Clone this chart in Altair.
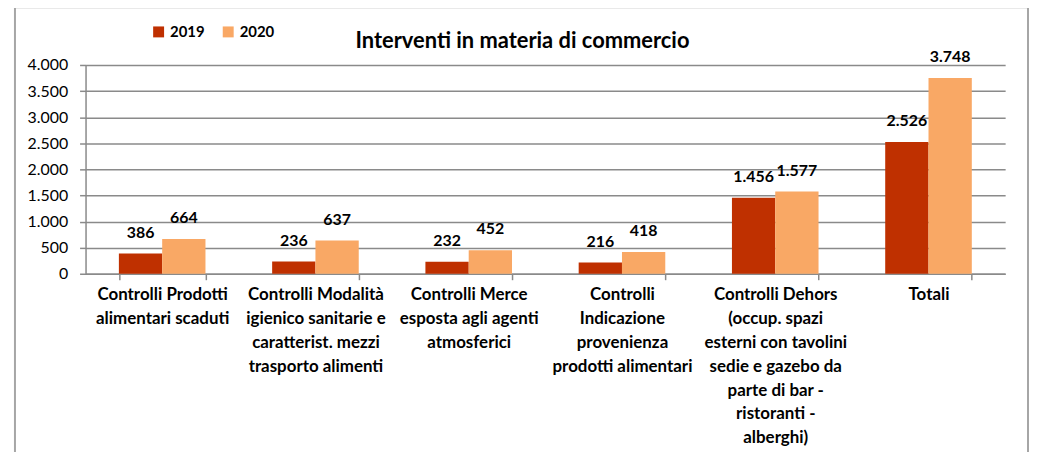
import altair as alt
import pandas as pd

categories = [
    "Controlli Prodotti\nalimentari scaduti",
    "Controlli Modalità\nigienico sanitarie e\ncaratterist. mezzi\ntrasporto alimenti",
    "Controlli Merce\nesposta agli agenti\natmosferici",
    "Controlli\nIndicazione\nprovenienza\nprodotti alimentari",
    "Controlli Dehors\n(occup. spazi\nesterni con tavolini\nsedie e gazebo da\nparte di bar -\nristoranti -\nalberghi)",
    "Totali",
]
series = ["2019", "2020"]
values_2019 = [386, 236, 232, 216, 1456, 2526]
values_2020 = [664, 637, 452, 418, 1577, 3748]
y_ticks = [0, 500, 1000, 1500, 2000, 2500, 3000, 3500, 4000]
colors = ["#BF3000", "#F9A865"]
title_text = "Interventi in materia di commercio"

rows = []
for c, a, b in zip(categories, values_2019, values_2020):
    rows.append({"cat": c, "year": "2019", "value": a})
    rows.append({"cat": c, "year": "2020", "value": b})
df = pd.DataFrame(rows)

FONT = "Lato"
GRAY = "#8a8a8a"

x_axis = alt.Axis(
    title=None,
    labelAngle=0,
    labelExpr="split(datum.label, '\\n')",
    labelFont=FONT,
    labelFontWeight="bold",
    labelFontSize=17,
    labelColor="#000000",
    labelLineHeight=24,
    labelPadding=7,
    labelBaseline="top",
    labelLimit=300,
    labelOverlap=False,
    tickBand="extent",
    tickSize=6,
    tickColor=GRAY,
    tickWidth=1.5,
    domainColor=GRAY,
    domainWidth=1.5,
    grid=False,
)
y_axis = alt.Axis(
    title=None,
    values=y_ticks,
    labelExpr="replace(format(datum.value, ','), ',', '.')",
    labelFont=FONT,
    labelFontSize=16,
    labelColor="#000000",
    labelPadding=12,
    labelOverlap=False,
    tickSize=6,
    tickColor=GRAY,
    tickWidth=1.5,
    domainColor=GRAY,
    domainWidth=1.5,
    grid=True,
    gridColor=GRAY,
    gridWidth=1.5,
)
x_scale = alt.Scale(paddingInner=0.435, paddingOuter=0.2175)
y_scale = alt.Scale(domain=[0, 4000], nice=False)

x_enc = alt.X("cat:N", sort=categories, scale=x_scale, axis=x_axis)
y_enc = alt.Y("value:Q", scale=y_scale, axis=y_axis)
xoff_enc = alt.XOffset("year:N", sort=series, scale=alt.Scale(paddingInner=0, paddingOuter=0))

base = alt.Chart(df)

bars = base.mark_bar().encode(
    x=x_enc,
    xOffset=xoff_enc,
    y=y_enc,
    color=alt.Color(
        "year:N",
        sort=series,
        scale=alt.Scale(domain=series, range=colors),
        legend=alt.Legend(
            title=None,
            orient="none",
            legendX=66,
            legendY=-41,
            direction="horizontal",
            symbolType="square",
            symbolSize=121,
            symbolStrokeWidth=0,
            labelFont=FONT,
            labelFontWeight="bold",
            labelFontSize=15,
            labelColor="#000000",
            labelOffset=4,
            columnPadding=16,
            padding=0,
        ),
    ),
)

labels = base.transform_calculate(
    label="replace(format(datum.value, ','), ',', '.')"
).mark_text(
    baseline="alphabetic", dy=-16, font=FONT, fontWeight="bold", fontSize=16, color="#000000"
).encode(
    x=x_enc,
    xOffset=xoff_enc,
    y=y_enc,
    text="label:N",
)

frame = alt.Chart(pd.DataFrame({"f": [0]})).mark_rect(
    fillOpacity=0, stroke="#a6a6a6", strokeWidth=2
).encode(
    x=alt.value(-71), x2=alt.value(948), y=alt.value(-58), y2=alt.value(420)
)

chart = alt.layer(bars, labels, frame).properties(
    width=925,
    height=210,
    autosize=alt.AutoSizeParams(type="none"),
    padding={"left": 78, "top": 56, "right": 24, "bottom": 178},
    title=alt.TitleParams(
        title_text,
        font=FONT,
        fontSize=22,
        fontWeight="bold",
        color="#000000",
        anchor="middle",
        dx=-23,
        dy=53,
        offset=6,
    ),
).configure_view(stroke=None)

chart.save("out.html", embed_options={"renderer": "svg", "actions": False})
